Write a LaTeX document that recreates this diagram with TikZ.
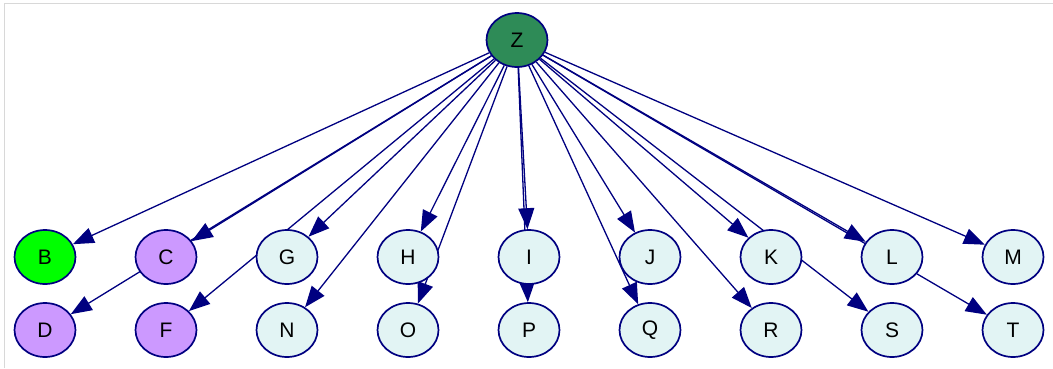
\documentclass[tikz,border=0pt]{standalone}
\usepackage{fontspec}
\setmainfont{Liberation Sans}
\usetikzlibrary{arrows.meta,shapes.geometric}
\definecolor{navy}{HTML}{000080}
\definecolor{rootgreen}{HTML}{2E8B57}
\definecolor{brightgreen}{HTML}{00FF00}
\definecolor{lavender}{HTML}{CC99FF}
\definecolor{paleblue}{HTML}{E2F4F4}
\definecolor{framegray}{HTML}{D8D8D8}
\pgfdeclarelayer{edges}
\pgfsetlayers{edges,main}
\tikzset{
  vertex/.style={ellipse, draw=navy, line width=1.7pt, minimum width=61pt,
    minimum height=54pt, inner sep=0pt, fill=paleblue,
    font=\fontsize{21}{21}\selectfont},
  link/.style={draw=navy, line width=1.3pt,
    -{Triangle[length=21pt,width=16pt]}}
}
\begin{document}
\begin{tikzpicture}[x=1pt,y=-1pt]
\useasboundingbox (0,0) rectangle (1053,368);
\draw[framegray, line width=1pt] (4.5,368) -- (4.5,3.5) -- (1053,3.5);

\node[vertex, fill=rootgreen] (Z) at (517,40) {Z};

\node[vertex, fill=brightgreen] (B) at (45,257) {B};
\node[vertex, fill=lavender] (C) at (166,257) {C};
\node[vertex] (G) at (287,257) {G};
\node[vertex] (H) at (408,257) {H};
\node[vertex] (I) at (529,257) {I};
\node[vertex] (J) at (650,257) {J};
\node[vertex] (K) at (771,257) {K};
\node[vertex] (L) at (892,257) {L};
\node[vertex] (M) at (1013,257) {M};

\node[vertex, fill=lavender] (D) at (45,330) {D};
\node[vertex, fill=lavender] (F) at (166,330) {F};
\node[vertex] (N) at (287,330) {N};
\node[vertex] (O) at (408,330) {O};
\node[vertex] (P) at (529,330) {P};
\node[vertex] (Q) at (650,330) {Q};
\node[vertex] (R) at (771,330) {R};
\node[vertex] (S) at (892,330) {S};
\node[vertex] (T) at (1013,330) {T};

\begin{pgfonlayer}{edges}
\foreach \t in {B,C,G,H,I,J,K,L,M,D,F,N,O,P,Q,R,S,T}
  \draw[link] (Z) -- (\t);
\end{pgfonlayer}
\end{tikzpicture}
\end{document}
